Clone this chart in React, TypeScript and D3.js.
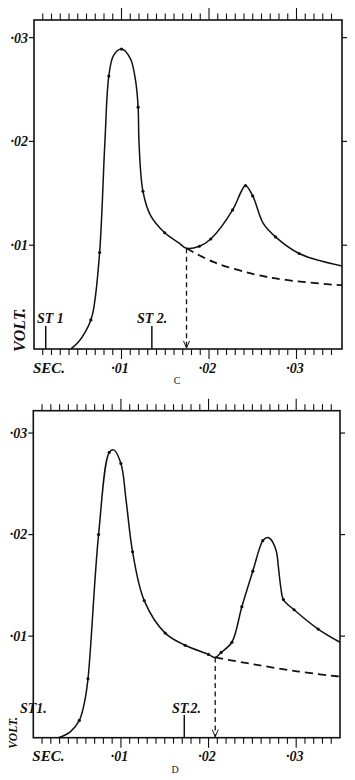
import React from "react";
import * as d3 from "d3";

// ---------- Data (seconds, volts) ----------
// Figure C
const cCurveT = [0.0042, 0.0051, 0.0059, 0.0065, 0.0068, 0.0075, 0.0081, 0.00855, 0.0091, 0.0100, 0.0110, 0.0116, 0.0119, 0.0120, 0.01245, 0.0133, 0.01494, 0.0166, 0.01743, 0.0189, 0.0202, 0.0227, 0.0237, 0.02417, 0.0250, 0.0262, 0.0276, 0.0303, 0.0352];
const cCurveV = [0.0, 0.0007, 0.0017, 0.0028, 0.0038, 0.0093, 0.0199, 0.0263, 0.0283, 0.0289, 0.0280, 0.0259, 0.0233, 0.0199, 0.0152, 0.0129, 0.0112, 0.0102, 0.0097, 0.0099, 0.0106, 0.0134, 0.0152, 0.01575, 0.01475, 0.0121, 0.0108, 0.0092, 0.0080];
const cDotT = [0.0065, 0.0075, 0.00855, 0.0100, 0.0119, 0.01245, 0.01494, 0.0189, 0.0202, 0.0227, 0.02417, 0.0250, 0.0276, 0.0303];
const cDotV = [0.0028, 0.0093, 0.0263, 0.0289, 0.0233, 0.0152, 0.0112, 0.0099, 0.0106, 0.0134, 0.01575, 0.01475, 0.0108, 0.0092];
const cDashT = [0.01743, 0.0204, 0.0250, 0.02885, 0.0346, 0.0352];
const cDashV = [0.0097, 0.00842, 0.00723, 0.00665, 0.00617, 0.00615];
const cBranchT = 0.01743;
const cBranchV = 0.0097;
const cStimT = [0.00134, 0.01347];
const cStimLabels = ["ST 1", "ST 2."];

// Figure D
const dCurveT = [0.00288, 0.00422, 0.00525, 0.00582, 0.00624, 0.00745, 0.00867, 0.00916, 0.0100, 0.0106, 0.01133, 0.01266, 0.01505, 0.01733, 0.01999, 0.02076, 0.02144, 0.02266, 0.0238, 0.02505, 0.02619, 0.02665, 0.02702, 0.02771, 0.02797, 0.02824, 0.02854, 0.02976, 0.0325, 0.0350];
const dCurveV = [0.0, 0.00057, 0.0017, 0.0034, 0.0058, 0.0200, 0.0281, 0.02834, 0.0270, 0.0233, 0.0183, 0.0135, 0.0103, 0.0091, 0.0082, 0.0079, 0.0084, 0.0094, 0.0129, 0.0164, 0.0194, 0.0197, 0.0196, 0.01844, 0.0168, 0.01483, 0.0136, 0.0126, 0.0107, 0.0094];
const dDotT = [0.00525, 0.00624, 0.00745, 0.00867, 0.0100, 0.01133, 0.01266, 0.01505, 0.01733, 0.01999, 0.02144, 0.02266, 0.0238, 0.02505, 0.02619, 0.02854, 0.02976, 0.0325];
const dDotV = [0.0017, 0.0058, 0.0200, 0.0281, 0.0270, 0.0183, 0.0135, 0.0103, 0.0091, 0.0082, 0.0084, 0.0094, 0.0129, 0.0164, 0.0194, 0.0136, 0.0126, 0.0107];
const dDashT = [0.02076, 0.02512, 0.03007, 0.03463, 0.0350];
const dDashV = [0.0079, 0.00723, 0.00654, 0.00605, 0.00602];
const dBranchT = 0.02076;
const dBranchV = 0.0079;
const dStimT = [0.0, 0.01723];
const dStimLabels = ["ST1.", "ST.2."];

// Axis ticks / labels
const xMajorTicks = [0.01, 0.02, 0.03];
const xTickLabels = ["·01", "·02", "·03"];
const yTicks = [0.01, 0.02, 0.03];
const yTickLabels = ["·01", "·02", "·03"];
const minorStep = 0.001;

const FONT = "'Liberation Serif', 'DejaVu Serif', serif";

type PanelProps = {
  curveT: number[]; curveV: number[];
  dotT: number[]; dotV: number[];
  dashT: number[]; dashV: number[];
  branchT: number; branchV: number;
  stimT: number[]; stimLabels: string[];
  left: number; right: number; top: number; bottom: number;
  xMax: number; yMax: number;
  caption: string; captionX: number;
  voltX: number; voltY: number; voltSize: number;
  stimLabelX: number[]; stimLabelY: number; stimLineTop: number; showStim: boolean[];
};

function Panel(p: PanelProps) {
  const x = d3.scaleLinear().domain([0, p.xMax]).range([p.left, p.right]);
  const y = d3.scaleLinear().domain([0, p.yMax]).range([p.bottom, p.top]);
  const line = d3
    .line<[number, number]>()
    .x((d) => x(d[0]))
    .y((d) => y(d[1]))
    .curve(d3.curveCatmullRom.alpha(0.5));
  const curvePts = p.curveT.map((t, i) => [t, p.curveV[i]] as [number, number]);
  const dashPts = p.dashT.map((t, i) => [t, p.dashV[i]] as [number, number]);
  const minor = d3.range(1, Math.floor(p.xMax / minorStep + 1e-6)).map((i) => i * minorStep);
  const isMajor = (t: number) => xMajorTicks.some((m) => Math.abs(m - t) < 1e-7);
  const bx = x(p.branchT);
  const by = y(p.branchV);
  return (
    <g>
      {/* frame */}
      <rect x={p.left} y={p.top} width={p.right - p.left} height={p.bottom - p.top} fill="none" stroke="#111" strokeWidth={1.6} />
      {/* top and bottom ticks */}
      {minor.map((t, i) => {
        const mj = isMajor(t);
        return (
          <g key={"t" + i} stroke="#111" strokeWidth={1.1}>
            <line x1={x(t)} x2={x(t)} y1={p.top} y2={p.top - (mj ? 12 : 6.5)} />
            <line x1={x(t)} x2={x(t)} y1={p.bottom} y2={p.bottom + (mj ? 10 : 6)} />
          </g>
        );
      })}
      {/* y ticks */}
      {yTicks.map((v, i) => (
        <g key={"y" + i}>
          <line x1={p.left - 5} x2={p.left} y1={y(v)} y2={y(v)} stroke="#111" strokeWidth={1.2} />
          <line x1={p.right} x2={p.right + 5} y1={y(v)} y2={y(v)} stroke="#111" strokeWidth={1.2} />
          <text x={p.left - 6} y={y(v)} dy="0.35em" textAnchor="end" fontFamily={FONT} fontStyle="italic" fontWeight="bold" fontSize={14} fill="#111">
            {yTickLabels[i]}
          </text>
        </g>
      ))}
      {/* x labels */}
      {xMajorTicks.map((t, i) => (
        <text key={"xl" + i} x={x(t) - 1.5} y={p.bottom + 23.5} textAnchor="middle" fontFamily={FONT} fontStyle="italic" fontWeight="bold" fontSize={14} fill="#111">
          {xTickLabels[i]}
        </text>
      ))}
      <text x={p.left - 1} y={p.bottom + 23.5} fontFamily={FONT} fontStyle="italic" fontWeight="bold" fontSize={15} fill="#111">SEC.</text>
      <text transform={`translate(${p.voltX},${p.voltY}) rotate(-90)`} textAnchor="middle" dy="0.35em" fontFamily={FONT} fontStyle="italic" fontWeight="bold" fontSize={p.voltSize} fill="#111">VOLT.</text>
      <text x={p.captionX} y={p.bottom + 35} textAnchor="middle" fontFamily={FONT} fontSize={10} fill="#222">{p.caption}</text>
      {/* stimulus markers */}
      {p.stimT.map((t, i) => (
        <g key={"s" + i}>
          {p.showStim[i] && <line x1={x(t)} x2={x(t)} y1={p.stimLineTop} y2={p.bottom} stroke="#111" strokeWidth={1.5} />}
          <text x={p.stimLabelX[i]} y={p.stimLabelY} fontFamily={FONT} fontStyle="italic" fontWeight="bold" fontSize={14} fill="#111">{p.stimLabels[i]}</text>
        </g>
      ))}
      {/* main curve */}
      <path d={line(curvePts) || ""} fill="none" stroke="#111" strokeWidth={1.5} />
      {/* extrapolated dashed curve */}
      <path d={line(dashPts) || ""} fill="none" stroke="#111" strokeWidth={1.8} strokeDasharray="8,5" />
      {/* vertical dashed arrow */}
      <line x1={bx} x2={bx} y1={by} y2={p.bottom - 1} stroke="#111" strokeWidth={1.3} strokeDasharray="5,3.5" />
      <path d={`M${bx - 3},${p.bottom - 8} L${bx},${p.bottom - 1} L${bx + 3},${p.bottom - 8}`} fill="none" stroke="#111" strokeWidth={1} />
      {/* observation dots */}
      {p.dotT.map((t, i) => (
        <circle key={"d" + i} cx={x(t)} cy={y(p.dotV[i])} r={1.6} fill="#111" />
      ))}
    </g>
  );
}

export default function App() {
  return (
    <svg width={355} height={780} style={{ position: "absolute", left: 0, top: 0, background: "#fff" }}>
      <rect x={0} y={0} width={355} height={780} fill="#fff" />
      <Panel
        curveT={cCurveT} curveV={cCurveV} dotT={cDotT} dotV={cDotV}
        dashT={cDashT} dashV={cDashV} branchT={cBranchT} branchV={cBranchV}
        stimT={cStimT} stimLabels={cStimLabels}
        left={34} right={342} top={20} bottom={349} xMax={0.0352} yMax={0.0317}
        caption="C" captionX={177}
        voltX={19} voltY={330} voltSize={16}
        stimLabelX={[37, 137]} stimLabelY={322.5} stimLineTop={326} showStim={[true, true]}
      />
      <Panel
        curveT={dCurveT} curveV={dCurveV} dotT={dDotT} dotV={dDotV}
        dashT={dDashT} dashV={dDashV} branchT={dBranchT} branchV={dBranchV}
        stimT={dStimT} stimLabels={dStimLabels}
        left={33.3} right={340} top={410.7} bottom={737.7} xMax={0.035} yMax={0.0322}
        caption="D" captionX={175}
        voltX={12.5} voltY={733} voltSize={11.5}
        stimLabelX={[20, 172]} stimLabelY={713} stimLineTop={715} showStim={[false, true]}
      />
    </svg>
  );
}
